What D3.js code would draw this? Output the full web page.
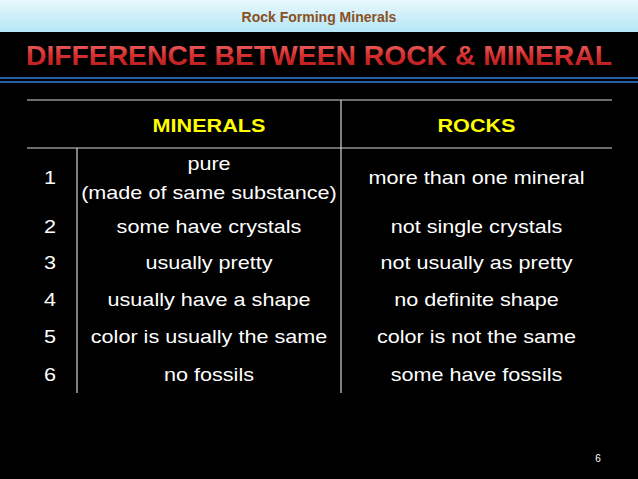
<!DOCTYPE html>
<html><head><meta charset="utf-8">
<script src="https://cdn.jsdelivr.net/npm/d3@7"></script>
<style>body{margin:0;background:#000}</style>
</head><body>
<script>
var rowNums = ['1', '2', '3', '4', '5', '6'];
var minerals = [['pure', '(made of same substance)'], ['some have crystals'], ['usually pretty'], ['usually have a shape'], ['color is usually the same'], ['no fossils']];
var rocks = ['more than one mineral', 'not single crystals', 'not usually as pretty', 'no definite shape', 'color is not the same', 'some have fossils'];
var headers = ['MINERALS', 'ROCKS'];

var W = 638, H = 479;
var svg = d3.select('body').append('svg').attr('width', W).attr('height', H);
var defs = svg.append('defs');
var g1 = defs.append('linearGradient').attr('id', 'top').attr('x1', 0).attr('y1', 0).attr('x2', 0).attr('y2', 1);
g1.append('stop').attr('offset', 0).attr('stop-color', '#e8f8fd');
g1.append('stop').attr('offset', 1).attr('stop-color', '#b5e6f7');
var g2 = defs.append('linearGradient').attr('id', 'red').attr('x1', 0).attr('y1', 0).attr('x2', 0).attr('y2', 1);
g2.append('stop').attr('offset', 0).attr('stop-color', '#f07070');
g2.append('stop').attr('offset', 0.5).attr('stop-color', '#d62e2e');
g2.append('stop').attr('offset', 1).attr('stop-color', '#b01818');

svg.append('rect').attr('width', W).attr('height', H).attr('fill', '#000');
svg.append('rect').attr('width', W).attr('height', 32).attr('fill', 'url(#top)');
svg.append('text').attr('x', 319).attr('y', 22).attr('text-anchor', 'middle')
    .attr('font-family', 'Liberation Sans, Arial').attr('font-weight', 'bold').attr('font-size', 14)
    .attr('fill', '#8a4f22').text('Rock Forming Minerals');
svg.append('text').attr('x', 319).attr('y', 65).attr('text-anchor', 'middle')
    .attr('font-family', 'Liberation Sans, Arial').attr('font-weight', 'bold').attr('font-size', 28)
    .attr('textLength', 586).attr('lengthAdjust', 'spacingAndGlyphs')
    .attr('fill', 'url(#red)').text('DIFFERENCE BETWEEN ROCK & MINERAL');
svg.append('rect').attr('y', 77).attr('width', W).attr('height', 2).attr('fill', '#2a5fa8');
svg.append('rect').attr('y', 81).attr('width', W).attr('height', 2).attr('fill', '#2a5fa8');

// table geometry
var x0 = 27, xNum = 77, xMid = 341, x1 = 612;
var tTop = 100, hBot = 148;
var rowH = [60, 37, 36, 37, 38, 37];
var yEdges = [hBot];
rowH.forEach(function (h) { yEdges.push(yEdges[yEdges.length - 1] + h); });
var line = function (xa, ya, xb, yb) {
    svg.append('line').attr('x1', xa).attr('y1', ya).attr('x2', xb).attr('y2', yb)
        .attr('stroke', '#d8d8d8').attr('stroke-width', 1.2);
};
line(x0, tTop, x1, tTop);
line(x0, hBot, x1, hBot);
line(xMid, tTop, xMid, yEdges[6]);
line(xNum, hBot, xNum, yEdges[6]);

var font = 'Liberation Sans, Arial';
// slide text is stretched horizontally
var sx = 1.2;
var t = function (x, y, s, opts) {
    opts = opts || {};
    svg.append('g').attr('transform', 'translate(' + x + ',' + y + ') scale(' + sx + ',1)')
        .append('text').attr('text-anchor', opts.anchor || 'middle')
        .attr('font-family', font).attr('font-size', opts.size || 18)
        .attr('font-weight', opts.bold ? 'bold' : null)
        .attr('fill', opts.fill || '#fff').text(s);
};
headers.forEach(function (d, i) {
    t(i ? (xMid + x1) / 2 : 209, 132, d, {bold: true, fill: '#ffff00', size: 18});
});

rowNums.forEach(function (n, i) {
    var cy = (yEdges[i] + yEdges[i + 1]) / 2;
    t(44, cy + 6, n, {anchor: 'start'});
    var lines = minerals[i];
    lines.forEach(function (s, k) {
        t(209, cy + 6 + (k - (lines.length - 1) / 2) * 29, s);
    });
    t((xMid + x1) / 2, cy + 6, rocks[i]);
});

svg.append('text').attr('x', 598).attr('y', 462).attr('text-anchor', 'middle')
    .attr('font-family', font).attr('font-size', 10).attr('fill', '#fff').text('6');
</script>
</body></html>
